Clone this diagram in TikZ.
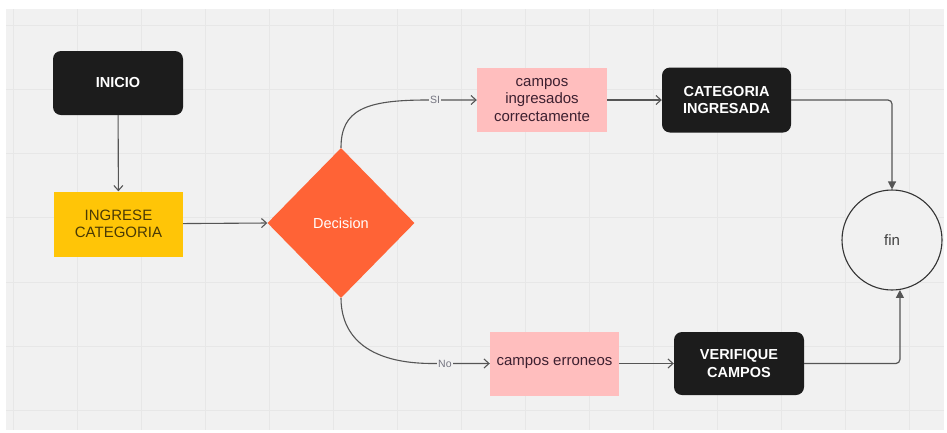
\documentclass[tikz,border=0pt]{standalone}
\usepackage{fontspec}
\setmainfont{Liberation Sans}
\usetikzlibrary{shapes.geometric,arrows.meta}

\definecolor{canvas}{HTML}{F1F1F1}
\definecolor{gridline}{HTML}{E7E7E7}
\definecolor{boxblack}{HTML}{1C1C1C}
\definecolor{boxyellow}{HTML}{FFC507}
\definecolor{boxorange}{HTML}{FF6336}
\definecolor{boxpink}{HTML}{FFBEBE}
\definecolor{wire}{HTML}{555555}
\definecolor{yellowtext}{HTML}{4A3A05}
\definecolor{pinktext}{HTML}{3D2030}
\definecolor{labelgray}{HTML}{747480}

\begin{document}
\begin{tikzpicture}[x=1pt,y=-1pt,
  txt/.style={font=\fontsize{15}{17.5}\selectfont, align=center},
  darkbox/.style={txt, rectangle, rounded corners=8pt, fill=boxblack,
    text=white, font=\fontsize{14.5}{17.5}\selectfont\bfseries, inner sep=0pt},
  yellowbox/.style={txt, rectangle, fill=boxyellow, text=yellowtext, inner sep=0pt},
  pinkbox/.style={txt, rectangle, fill=boxpink, text=pinktext, inner sep=0pt},
  decbox/.style={diamond, fill=boxorange, text=white, inner sep=0pt,
    minimum width=147pt, minimum height=150pt, font=\fontsize{14.5}{17}\selectfont},
  endcircle/.style={circle, draw=black!80, line width=1.1pt, fill=canvas,
    minimum size=100pt, inner sep=0pt, text=black!75, font=\fontsize{15}{17}\selectfont},
  flow/.style={draw=wire, line width=1.1pt,
    -{Straight Barb[length=5pt,width=9pt]}},
  flowend/.style={draw=wire, line width=1.2pt, rounded corners=4pt,
    -{Triangle[length=8pt,width=8pt]}},
  lbl/.style={fill=canvas, inner sep=1.5pt, text=labelgray,
    font=\fontsize{10.5}{12}\selectfont}
]
% page and canvas with its grid
\useasboundingbox (0,0) rectangle (947,432);
\fill[white] (0,0) rectangle (947,432);
\fill[canvas] (6,9) rectangle (944,430);
\begin{scope}
  \clip (6,9) rectangle (944,430);
  \foreach \gx in {13,77,...,941} \draw[gridline, line width=1pt] (\gx,9) -- (\gx,430);
  \foreach \gy in {25,89.3,153.6,217.9,282.2,346.5,410.8} \draw[gridline, line width=1pt] (6,\gy) -- (944,\gy);
\end{scope}

% nodes
\node[darkbox, minimum width=130pt, minimum height=64pt] (ini) at (118,83) {INICIO};
\node[yellowbox, minimum width=129pt, minimum height=65pt] (ing) at (118.5,224) {INGRESE\\CATEGORIA};
\node[decbox] (dec) at (341,223) {Decision};
\node[pinkbox, minimum width=130pt, minimum height=64pt] (ok) at (542,100) {campos\\ingresados\\correctamente};
\node[darkbox, minimum width=129pt, minimum height=65pt] (cat) at (726.5,100) {CATEGORIA\\INGRESADA};
\node[pinkbox, minimum width=129pt, minimum height=64pt] (err) at (554.5,363.5) {campos erroneos};
\node[darkbox, minimum width=130pt, minimum height=63pt] (ver) at (739,363.5) {VERIFIQUE\\CAMPOS};
\node[endcircle] (fin) at (892,240) {fin};

% connectors
\draw[flow] (ini) -- (ing);
\draw[flow] (ing) -- (dec.west);
\draw[flow] (dec.north) .. controls (341,110) and (365,100) .. (427,100)
  -- node[lbl, pos=0.16] {SI} (ok.west);
\draw[flow] (dec.south) .. controls (341,325) and (355,363.5) .. (433,363.5)
  -- node[lbl, pos=0.21] {No} (err.west);
\draw[flow] (ok) -- (cat);
\draw[flow] (err) -- (ver);
\draw[flowend] (cat.east) -| (fin.north);
\draw[flowend] (ver.east) -| (fin.-81);
\end{tikzpicture}
\end{document}
